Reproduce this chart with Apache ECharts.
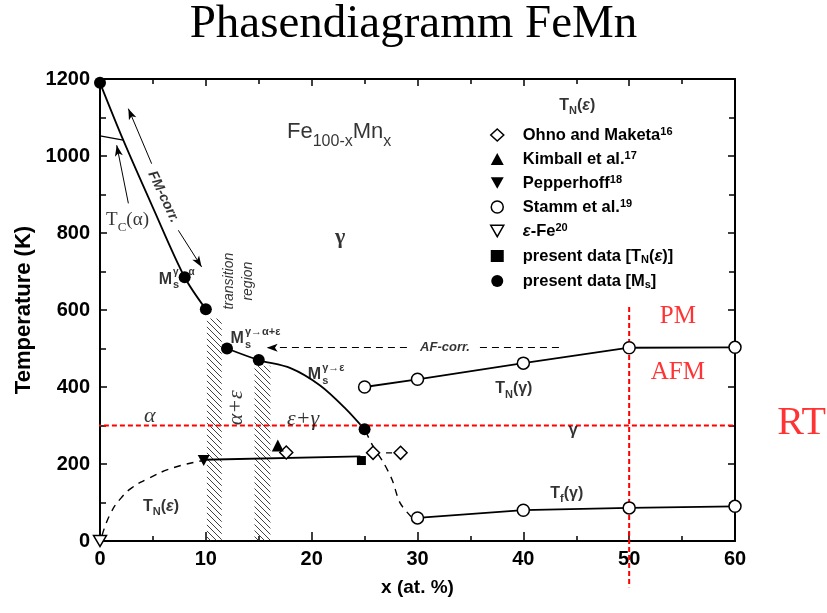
<!DOCTYPE html>
<html><head><meta charset="utf-8">
<script src="https://cdn.jsdelivr.net/npm/echarts@6/dist/echarts.min.js"></script>
<style>html,body{margin:0;padding:0;background:#fff}#c{width:827px;height:613px}</style>
</head><body><div id="c"></div>
<script>
// ---------- axis ranges ----------
const xRange = [0, 60, 10];
const yRange = [0, 1200, 200];

// ---------- measured points (markers) ----------
const msPresent   = [[0,1190],[8,685],[10,602],[12,500],[15,470],[25,290]];
const ohno        = [[17.6,230],[25.8,229],[28.4,229]];
const kimball     = [[16.8,248]];
const pepperhoff  = [[9.8,209]];
const stammTN     = [[25,400],[30,420],[40,462],[50,502],[60,503]];
const stammTf     = [[30,60],[40,80],[50,86],[60,90]];
const epsFe       = [[0,0]];
const presentTN   = [[24.7,209]];

// ---------- traced curves ----------
const msCurveAlpha    = [[0,1190],[2.2,1041],[5,866],[8,685],[10,602]];
const msCurveEps      = [[12,500],[15,470],[18,449],[20.8,404],[23.2,344],[25,290]];
const tcAlpha         = [[0,1052],[2.2,1041]];
const tnEpsSolid      = [[9.8,211],[24.6,220]];
const tnEpsDashedLow  = [[0.2,15],[1,72],[2,112],[3,138],[4.4,160],[6.9,190],[9.8,209]];
const tnEpsDashedHigh = [[25.1,285],[25.8,246],[26.8,203],[27.6,159],[28.35,99],[29.4,63]];
const ohnoDash        = [[25.8,229],[28.4,229]];
const bands           = [[10.1,11.5,0,578],[14.6,16.1,0,455]];
const rtLine          = [[-1.9,300],[62.5,300]];
const x50Line         = [[50,608],[50,-120]];
const fmArrowUp       = [[4.88,980],[2.68,1123]];
const fmArrowDown     = [[7.40,807],[9.60,712]];
const tcArrow         = [[2.68,877],[1.58,1028]];
const afArrow         = [[29.0,502],[15.75,502]];
const afTail          = [[35.9,502],[43.6,502]];

// ---------- legend names ----------
const legendNames = ['Ohno and Maketa','Kimball et al.','Pepperhoff','Stamm et al.','ε-Fe','present data [TN(ε)]','present data [Ms]'];
const legendText = {
  'Ohno and Maketa':'Ohno and Maketa{sup|16}',
  'Kimball et al.':'Kimball et al.{sup|17}',
  'Pepperhoff':'Pepperhoff{sup|18}',
  'Stamm et al.':'Stamm et al.{sup|19}',
  'ε-Fe':'{it|ε}-Fe{sup|20}',
  'present data [TN(ε)]':'present data [T{sub|N}({it|ε})]',
  'present data [Ms]':'present data [M{sub|s}]'
};

const SANS = 'Liberation Sans', SERIF = 'Liberation Serif';
const downTri = 'path://M0,0L10,0L5,8.66Z';

function subStyle(fs, pad, fam, bold){ return {fontSize:fs, lineHeight:fs, fontFamily:fam||SANS, fontWeight:bold?'bold':'normal', padding:[pad,0,0,0], verticalAlign:'bottom', color:'#000'}; }
function supStyle(fs, pad, fam, bold){ return {fontSize:fs, lineHeight:fs, fontFamily:fam||SANS, fontWeight:bold?'bold':'normal', padding:[0,0,pad,0], verticalAlign:'top', color:'#000'}; }

// ---------- annotations (text in the plot); parts: n normal, b subscript, i italic ----------
const notes = [
  {at:[17.67,1062], parts:[['Fe','n'],['100-x','b'],['Mn','n'],['x','b']], fs:22, align:'left', sr:0.74, sd:0.42},
  {at:[22.7,790], t:'γ', fs:22, fam:SERIF, bold:true},
  {at:[2.6,833], parts:[['T','n'],['C','b'],['(α)','n']], fs:19, fam:SERIF},
  {at:[5.98,894], t:'FM-corr.', fs:14, bold:true, italic:true, rot:-64.6},
  {at:[6.8,680], t:'M', fs:16, bold:true, align:'right'},
  {at:[6.8,680], t:'γ→α', fs:10, bold:true, align:'left', off:[1,-7]},
  {at:[6.8,680], t:'s', fs:11, bold:true, align:'left', off:[1,6]},
  {at:[13.1,675], t:'transition\nregion', fs:14, italic:true, rot:90, lh:19},
  {at:[13.6,525], t:'M', fs:16, bold:true, align:'right'},
  {at:[13.6,525], t:'γ→α+ε', fs:11, bold:true, align:'left', off:[1,-7]},
  {at:[13.6,525], t:'s', fs:11, bold:true, align:'left', off:[1,6]},
  {at:[20.9,432], t:'M', fs:16, bold:true, align:'right'},
  {at:[20.9,432], t:'γ→ε', fs:11, bold:true, align:'left', off:[1,-7]},
  {at:[20.9,432], t:'s', fs:11, bold:true, align:'left', off:[1,6]},
  {at:[32.6,504], t:'AF-corr.', fs:13, bold:true, italic:true},
  {at:[4.7,323], t:'α', fs:22, fam:SERIF, italic:true},
  {at:[12.9,346], t:'α+ε', fs:22, fam:SERIF, italic:true, rot:90},
  {at:[19.2,316], t:'ε+γ', fs:22, fam:SERIF, italic:true},
  {at:[5.76,90], parts:[['T','n'],['N','b'],['(','n'],['ε','i'],[')','n']], fs:16, bold:true},
  {at:[39.1,395], parts:[['T','n'],['N','b'],['(γ)','n']], fs:16, bold:true},
  {at:[44.7,287], t:'γ', fs:16, bold:true},
  {at:[44.1,123], parts:[['T','n'],['f','b'],['(γ)','n']], fs:16, bold:true},
  {at:[45.1,1131], parts:[['T','n'],['N','b'],['(','n'],['ε','i'],[')','n']], fs:16, bold:true},
  {at:[54.6,582], t:'PM', fs:25, fam:SERIF, color:'#ff0000'},
  {at:[54.6,438], t:'AFM', fs:25, fam:SERIF, color:'#ff0000'},
  {at:[66.3,305], t:'RT', fs:40, fam:SERIF, color:'#ff0000'}
];

// split composite texts (with subscripts) into measured pieces
const mctx = document.createElement('canvas').getContext('2d');
function fontStr(fs, fam, bold, italic){ return (italic?'italic ':'') + (bold?'bold ':'') + fs + 'px "' + fam + '"'; }
function expand(n){
  if (!n.parts) return [n];
  const fam = n.fam || SANS, sr = n.sr || 0.7, sd = n.sd || 0.36;
  const pieces = n.parts.map(([t, role]) => {
    const sub = role === 'b', it = role === 'i' || !!n.italic;
    const fs = sub ? Math.round(n.fs * sr) : n.fs;
    mctx.font = fontStr(fs, fam, n.bold, it);
    return {t, fs, it, w: mctx.measureText(t).width, dy: sub ? n.fs * sd : 0};
  });
  const W = pieces.reduce((s, p) => s + p.w, 0);
  let x = n.align === 'left' ? 0 : -W / 2;
  return pieces.map(p => { const o = {at:n.at, t:p.t, fs:p.fs, fam, bold:n.bold, italic:p.it, align:'left', off:[x, p.dy], color:n.color}; x += p.w; return o; });
}
const noteItems = [].concat(...notes.map(expand));

// ---------- hatch pattern ----------
const pc = document.createElement('canvas'); pc.width = 6; pc.height = 6;
(function(){ const g = pc.getContext('2d'); g.strokeStyle = '#111'; g.lineWidth = 0.8;
  g.beginPath(); g.moveTo(-1,-1); g.lineTo(7,7); g.moveTo(5,-1); g.lineTo(7,1); g.moveTo(-1,5); g.lineTo(1,7); g.stroke(); })();

function lineSeries(data, opts){
  return Object.assign({type:'line', data:data, symbol:'none', clip:false, silent:true, z:3,
    lineStyle:{color:'#000', width:1.8}}, opts||{});
}
function arrowML(seg, headEnd){
  return [{coord:seg[0], symbol:'none'},{coord:seg[1], symbol: headEnd ? 'arrow' : 'none'}];
}
function markers(idx, data, symbol, size, filled){
  return {type:'scatter', name:legendNames[idx], data:data, symbol:symbol, symbolSize:size, clip:false, z:10,
    itemStyle: filled ? {color:'#000', opacity:1} : {color:'#fff', borderColor:'#000', borderWidth:1.5, opacity:1},
    emphasis:{disabled:true}};
}

const series = [
  lineSeries(msCurveAlpha, {smooth:0.3}),
  lineSeries(msCurveEps, {smooth:0.3,
    markArea:{silent:true, itemStyle:{color:{image:pc, repeat:'repeat'}, opacity:1, borderWidth:0},
      data: bands.map(b => [{coord:[b[0],b[2]]},{coord:[b[1],b[3]]}])}}),
  lineSeries(tcAlpha, {lineStyle:{color:'#000', width:1.3}}),
  lineSeries(tnEpsSolid),
  lineSeries(tnEpsDashedLow, {smooth:0.5, lineStyle:{color:'#000', width:1.4, type:[7,6]}}),
  lineSeries(tnEpsDashedHigh, {smooth:0.3, lineStyle:{color:'#000', width:1.4, type:[7,6]}}),
  lineSeries(ohnoDash, {lineStyle:{color:'#000', width:1.4, type:[6,7]}}),
  lineSeries(stammTN),
  lineSeries(stammTf),
  {type:'line', data:[], silent:true,
    markLine:{silent:true, animation:false, symbolSize:[6,11], label:{show:false},
      lineStyle:{color:'#000', width:1, type:'solid'},
      data:[arrowML(fmArrowUp,true), arrowML(fmArrowDown,true), arrowML(tcArrow,true)]}},
  {type:'line', data:[], silent:true,
    markLine:{silent:true, animation:false, symbolSize:[6,11], label:{show:false},
      lineStyle:{color:'#000', width:1, type:[7,5]},
      data:[arrowML(afArrow,true), arrowML(afTail,false)]}},
  lineSeries(rtLine, {z:8, lineStyle:{color:'#ff0000', width:2, type:[5,3]}}),
  lineSeries(x50Line, {z:8, lineStyle:{color:'#ff0000', width:2, type:[5,3]}}),
  // markers
  markers(0, ohno, 'diamond', 13, false),
  markers(1, kimball, 'triangle', 12, true),
  markers(2, pepperhoff, downTri, [12,11], true),
  markers(3, stammTN.concat(stammTf), 'circle', 12, false),
  markers(4, epsFe, downTri, [13,11], false),
  markers(5, presentTN, 'rect', 9, true),
  markers(6, msPresent, 'circle', 12, true),
  // annotations
  {type:'scatter', silent:true, clip:false, z:12, symbolSize:1, itemStyle:{color:'rgba(0,0,0,0)'},
    data: noteItems.map(n => ({value:n.at, label:{show:true, position:'inside', formatter:n.t,
      fontSize:n.fs, fontFamily:n.fam||SANS, fontWeight:n.bold?'bold':'normal', fontStyle:n.italic?'italic':'normal',
      color:n.color||'#000', align:n.align||'center', verticalAlign:'middle', rotate:n.rot||0,
      offset:n.off||[0,0], lineHeight:n.lh||n.fs}}))}
];

const legendIcons = [
  {icon:'diamond', itemStyle:{color:'#fff', borderColor:'#000', borderWidth:1.5, opacity:1}},
  {icon:'triangle', itemStyle:{color:'#000', borderWidth:0, opacity:1}},
  {icon:downTri, itemStyle:{color:'#000', borderWidth:0, opacity:1}},
  {icon:'circle', itemStyle:{color:'#fff', borderColor:'#000', borderWidth:1.5, opacity:1}},
  {icon:downTri, itemStyle:{color:'#fff', borderColor:'#000', borderWidth:1.5, opacity:1}},
  {icon:'rect', itemStyle:{color:'#000', borderWidth:0, opacity:1}},
  {icon:'circle', itemStyle:{color:'#000', borderWidth:0, opacity:1}}
];

function axisCommon(show){
  return {
    axisLine:{show:true, onZero:false, lineStyle:{color:'#000', width:2}},
    splitLine:{show:false},
    axisLabel:{show:show, color:'#000', fontSize:20, fontWeight:'bold', fontFamily:SANS, formatter: v => String(v)},
  };
}

const option = {
  animation:false,
  backgroundColor:'#fff',
  title:{text:'Phasendiagramm FeMn', left:'center', top:-4,
    textStyle:{fontFamily:SERIF, fontSize:47, fontWeight:'normal', color:'#000'}},
  grid:{left:100, right:92, top:79, bottom:72, containLabel:false},
  legend:{orient:'vertical', left:485, top:121, itemWidth:13, itemHeight:12, itemGap:6, selectedMode:false,
    textStyle:{fontFamily:SANS, fontSize:16.5, fontWeight:'bold', color:'#000', lineHeight:18, padding:[0,0,0,14],
      rich:{sup:supStyle(11,5,SANS,true), sub:subStyle(11,8,SANS,true),
            it:{fontSize:16.5, fontStyle:'italic', fontWeight:'bold', fontFamily:SANS, color:'#000'}}},
    formatter: name => legendText[name],
    data: legendNames.map((n,i) => Object.assign({name:n}, legendIcons[i]))},
  xAxis:[
    Object.assign(axisCommon(true), {type:'value', min:xRange[0], max:xRange[1], interval:xRange[2], position:'bottom',
      name:'x (at. %)', nameLocation:'middle', nameGap:37,
      nameTextStyle:{fontFamily:SANS, fontSize:19, fontWeight:'bold', color:'#000'},
      axisTick:{inside:true, length:9, lineStyle:{color:'#000', width:1.5}},
      minorTick:{show:true, splitNumber:2, length:5, lineStyle:{color:'#000', width:1.5}}}),
    Object.assign(axisCommon(false), {type:'value', min:xRange[0], max:xRange[1], interval:xRange[2], position:'top',
      axisTick:{inside:true, length:7, lineStyle:{color:'#000', width:1.5}},
      minorTick:{show:true, splitNumber:2, length:5, lineStyle:{color:'#000', width:1.5}}})
  ],
  yAxis:[
    Object.assign(axisCommon(true), {type:'value', min:yRange[0], max:yRange[1], interval:yRange[2], position:'left',
      name:'Temperature (K)', nameLocation:'middle', nameGap:63,
      nameTextStyle:{fontFamily:SANS, fontSize:22, fontWeight:'bold', color:'#000'},
      axisLabel:{show:true, color:'#000', fontSize:20, fontWeight:'bold', fontFamily:SANS, margin:10, formatter: v => String(v)},
      axisTick:{inside:true, length:7, lineStyle:{color:'#000', width:1.5}},
      minorTick:{show:true, splitNumber:2, length:6, lineStyle:{color:'#000', width:1.5}}}),
    Object.assign(axisCommon(false), {type:'value', min:yRange[0], max:yRange[1], interval:yRange[2], position:'right',
      axisTick:{inside:true, length:7, lineStyle:{color:'#000', width:1.5}},
      minorTick:{show:true, splitNumber:2, length:6, lineStyle:{color:'#000', width:1.5}}})
  ],
  series: series
};

const chart = echarts.init(document.getElementById('c'), null, {renderer:'canvas'});
chart.setOption(option);
</script>
</body></html>
